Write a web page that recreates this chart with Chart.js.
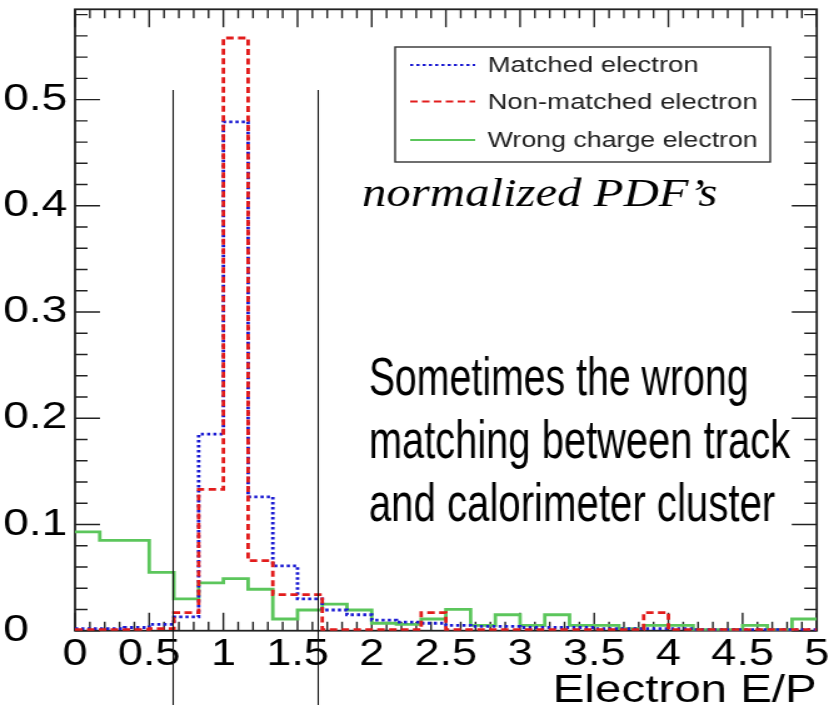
<!DOCTYPE html>
<html>
<head>
<meta charset="utf-8">
<title>Electron E/P</title>
<script src="https://cdn.jsdelivr.net/npm/chart.js@4.4.1/dist/chart.umd.min.js"></script>
<style>
  html, body { margin: 0; padding: 0; background: #fff; }
</style>
</head>
<body>
<!-- canvas is drawn narrow and widened by css, like the old exported figure -->
<canvas id="plot" width="663" height="714" style="display:block;width:829px;height:714px"></canvas>
<script>
// histogram binning: 30 bins on [0, 5]
const xLow = 0, xHigh = 5, nBins = 30;

// normalized bin contents
const matched = [0.002, 0.002, 0.003, 0.006, 0.013, 0.185, 0.479, 0.126, 0.061, 0.030,
  0.0195, 0.015, 0.010, 0.008, 0.007, 0.005, 0.004, 0.004, 0.003, 0.003,
  0.003, 0.002, 0.002, 0.002, 0.002, 0.001, 0.001, 0.001, 0.001, 0.001];
const nonMatched = [0.001, 0.001, 0.001, 0.002, 0.017, 0.133, 0.558, 0.066, 0.034, 0.034,
  0.001, 0.001, 0.001, 0.001, 0.017, 0.001, 0.001, 0.001, 0.001, 0.001,
  0.001, 0.001, 0.001, 0.017, 0.001, 0.001, 0.001, 0.001, 0.001, 0.001];
const wrongCharge = [0.093, 0.085, 0.085, 0.055, 0.030, 0.045, 0.049, 0.039, 0.011, 0.0195,
  0.025, 0.0195, 0.007, 0.006, 0.011, 0.020, 0.005, 0.015, 0.005, 0.015,
  0.005, 0.005, 0.002, 0.005, 0.005, 0.001, 0.001, 0.005, 0.001, 0.011];

const seriesNames = ['Matched electron', 'Non-matched electron', 'Wrong charge electron'];

// E/P cut window
const cutLines = [0.66, 1.635];
const cutTop = 0.509;

const yMax = 0.585;
const fontSans = "'Liberation Sans', Arial, Helvetica, sans-serif";

// left bin edges + closing point, drawn as steps
function histPoints(values) {
  const w = (xHigh - xLow) / nBins;
  const pts = values.map((v, i) => ({ x: xLow + i * w, y: v }));
  pts.push({ x: xHigh, y: values[values.length - 1] });
  return pts;
}

// ROOT-like frame with inward ticks on all four sides
const frame = {
  id: 'frame',
  beforeDatasetsDraw(chart) {
    const { ctx, chartArea: a, scales: { x, y } } = chart;
    ctx.save();
    ctx.strokeStyle = '#222';
    ctx.lineWidth = 1.4;
    ctx.beginPath();
    for (let i = 0; i <= 50; i++) {
      const px = x.getPixelForValue(i / 10);
      const len = i % 5 === 0 ? 18 : 9;
      ctx.moveTo(px, a.bottom); ctx.lineTo(px, a.bottom - len);
      ctx.moveTo(px, a.top); ctx.lineTo(px, a.top + len);
    }
    for (let j = 0; j * 0.02 <= y.max; j++) {
      const py = y.getPixelForValue(j * 0.02);
      const len = j % 5 === 0 ? 20 : 10;
      ctx.moveTo(a.left, py); ctx.lineTo(a.left + len, py);
      ctx.moveTo(a.right, py); ctx.lineTo(a.right - len, py);
    }
    ctx.stroke();
    ctx.lineWidth = 1.8;
    ctx.strokeRect(a.left, a.top, a.right - a.left, a.bottom - a.top);
    ctx.restore();
  }
};

// cut lines, text notes and the boxed legend
const notes = [
  { text: 'Sometimes the wrong', x0: 1.98, x1: 4.54, y: 0.222 },
  { text: 'matching between track', x0: 1.98, x1: 4.82, y: 0.1625 },
  { text: 'and calorimeter cluster', x0: 1.98, x1: 4.72, y: 0.1032 }
];

const overlay = {
  id: 'overlay',
  afterDraw(chart) {
    const { ctx, scales: { x, y } } = chart;
    ctx.save();

    ctx.strokeStyle = '#111';
    ctx.lineWidth = 1.1;
    ctx.beginPath();
    cutLines.forEach(v => {
      const px = Math.round(x.getPixelForValue(v)) + 0.5;
      ctx.moveTo(px, y.getPixelForValue(cutTop));
      ctx.lineTo(px, chart.height - 9);
    });
    ctx.stroke();

    ctx.fillStyle = '#000';
    ctx.textBaseline = 'alphabetic';
    ctx.textAlign = 'left';
    ctx.font = "italic 39px 'Liberation Serif', 'Times New Roman', serif";
    ctx.fillText('normalized PDF\u2019s', x.getPixelForValue(1.935), y.getPixelForValue(0.40));

    ctx.font = "54px 'Liberation Sans Narrow', " + fontSans;
    notes.forEach(n => {
      const x0 = x.getPixelForValue(n.x0);
      ctx.fillText(n.text, x0, y.getPixelForValue(n.y), x.getPixelForValue(n.x1) - x0);
    });

    // legend box
    const box = { left: 316, top: 47, width: 300, height: 115 };
    ctx.fillStyle = '#fff';
    ctx.fillRect(box.left, box.top, box.width, box.height);
    ctx.strokeStyle = '#333';
    ctx.lineWidth = 1.4;
    ctx.strokeRect(box.left, box.top, box.width, box.height);
    const rows = [18, 54.5, 93];
    ctx.font = '22px ' + fontSans;
    ctx.textBaseline = 'middle';
    seriesNames.forEach((name, i) => {
      const ds = chart.data.datasets[i];
      const ry = box.top + rows[i];
      ctx.strokeStyle = ds.borderColor;
      ctx.lineWidth = 2.2;
      ctx.setLineDash(ds.borderDash || []);
      ctx.beginPath();
      ctx.moveTo(box.left + 12, ry);
      ctx.lineTo(box.left + 64, ry);
      ctx.stroke();
      ctx.setLineDash([]);
      ctx.fillStyle = '#222';
      ctx.fillText(name, box.left + 74, ry + 1, box.width - 84);
    });
    ctx.restore();
  }
};

new Chart(document.getElementById('plot'), {
  type: 'line',
  data: {
    datasets: [
      {
        label: seriesNames[0],
        data: histPoints(matched),
        borderColor: '#1a1ad2',
        borderDash: [2.5, 2.5],
        borderWidth: 2.8,
        order: 1
      },
      {
        label: seriesNames[1],
        data: histPoints(nonMatched),
        borderColor: '#e21c1c',
        borderDash: [6, 3.5],
        borderWidth: 2.8,
        order: 0
      },
      {
        label: seriesNames[2],
        data: histPoints(wrongCharge),
        borderColor: '#5cc65c',
        borderWidth: 2.8,
        order: 2
      }
    ]
  },
  options: {
    responsive: false,
    devicePixelRatio: 1,
    animation: false,
    layout: { padding: { top: 9.3, right: 9.8, left: 2.5, bottom: 0 } },
    elements: {
      line: { stepped: true, tension: 0, fill: false },
      point: { radius: 0 }
    },
    plugins: {
      legend: { display: false },
      tooltip: { enabled: false }
    },
    scales: {
      x: {
        type: 'linear',
        min: xLow,
        max: xHigh,
        grid: { display: false, drawTicks: false },
        border: { display: false },
        ticks: {
          stepSize: 0.5,
          autoSkip: false,
          maxRotation: 0,
          padding: 3,
          color: '#000',
          font: { family: fontSans, size: 36 },
          callback: v => String(+v.toFixed(2))
        },
        title: {
          display: true,
          text: 'Electron E/P',
          align: 'end',
          color: '#000',
          font: { family: fontSans, size: 38, lineHeight: 1 },
          padding: { top: 0, bottom: 3 }
        },
        afterFit(scale) {
          scale.height = 83.3;
          scale.paddingLeft = 0;
          scale.paddingRight = 0;
        }
      },
      y: {
        min: 0,
        max: yMax,
        grid: { display: false, drawTicks: false },
        border: { display: false },
        ticks: {
          stepSize: 0.1,
          includeBounds: false,
          crossAlign: 'far',
          color: '#000',
          font: { family: fontSans, size: 37 },
          callback: v => String(+v.toFixed(2))
        },
        afterFit(scale) {
          scale.width = 57.5;
          scale.paddingTop = 0;
          scale.paddingBottom = 0;
        }
      }
    }
  },
  plugins: [frame, overlay]
});
</script>
</body>
</html>
